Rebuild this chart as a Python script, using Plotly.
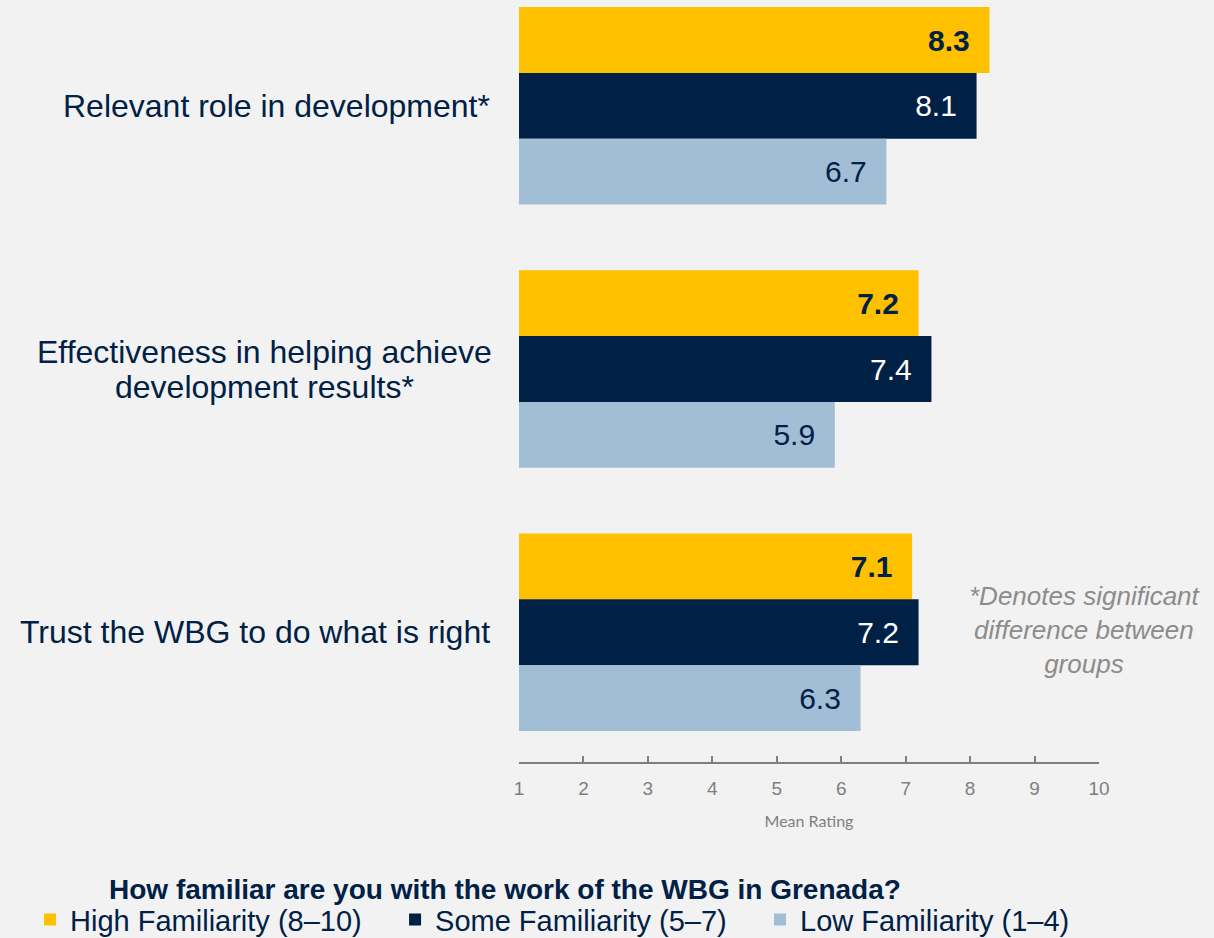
import plotly.graph_objects as go

categories = ["Relevant role in development*",
              "Effectiveness in helping achieve development results*",
              "Trust the WBG to do what is right"]
category_labels = ["Relevant role in development*",
                   "Effectiveness in helping achieve<br>development results*",
                   "Trust the WBG to do what is right"]
series_names = ["High Familiarity (8\u201310)", "Some Familiarity (5\u20137)", "Low Familiarity (1\u20134)"]
high_vals = [8.3, 7.2, 7.1]
some_vals = [8.1, 7.4, 7.2]
low_vals = [6.7, 5.9, 6.3]
x_ticks = [1, 2, 3, 4, 5, 6, 7, 8, 9, 10]

NAVY = "#002145"
FONT = "Liberation Sans, Arial"
colors = ["#FFC000", NAVY, "#A2BDD6"]
text_colors = [NAVY, "#FFFFFF", NAVY]
templates = ["<b>%{x:.1f}</b>&nbsp;&nbsp;", "%{x:.1f}&nbsp;&nbsp;", "%{x:.1f}&nbsp;&nbsp;"]

fig = go.Figure()
for name, vals, col, tcol, tmpl in zip(series_names, [high_vals, some_vals, low_vals], colors, text_colors, templates):
    fig.add_trace(go.Bar(
        y=categories, x=vals, name=name, orientation="h",
        marker=dict(color=col, line=dict(width=0)),
        texttemplate=tmpl, textposition="inside", insidetextanchor="end",
        textfont=dict(family=FONT, size=30, color=tcol),
        insidetextfont=dict(family=FONT, size=30, color=tcol),
        constraintext="none", hoverinfo="skip",
    ))

annotations = []
for cat, lab in zip(categories, category_labels):
    lines = lab.split("<br>")
    if len(lines) == 1:
        annotations.append(dict(
            xref="paper", yref="y", x=-0.047, y=cat, text=lab, showarrow=False,
            xanchor="right", yanchor="middle",
            font=dict(family=FONT, size=32, color=NAVY)))
    else:
        n = len(lines)
        for i, ln in enumerate(lines):
            annotations.append(dict(
                xref="paper", yref="y", x=-0.4388, y=cat, text=ln, showarrow=False,
                xanchor="center", yanchor="middle",
                yshift=(n - 1) / 2 * 35 - i * 35,
                font=dict(family=FONT, size=32, color=NAVY)))
annotations.append(dict(
    xref="paper", yref="paper", x=0.976, y=0.173,
    text="<i>*Denotes significant<br>difference between<br>groups</i>",
    showarrow=False, xanchor="center", yanchor="middle", align="center",
    font=dict(family=FONT, size=26, color="#8C8C8C")))
annotations.append(dict(
    xref="paper", yref="paper", x=-0.024, y=-0.1667,
    text="<b>How familiar are you with the work of the WBG in Grenada?</b>",
    showarrow=False, xanchor="center", yanchor="middle",
    font=dict(family=FONT, size=28, color=NAVY)))

fig.update_layout(
    width=1214, height=938,
    margin=dict(l=519, r=115, t=0, b=176, autoexpand=False),
    paper_bgcolor="#F2F2F2", plot_bgcolor="#F2F2F2",
    barmode="group", bargap=0.25, bargroupgap=0,
    showlegend=True,
    legend=dict(orientation="h", xref="paper", yref="paper",
                x=-0.843, y=-0.207, xanchor="left", yanchor="middle",
                font=dict(family=FONT, size=29, color=NAVY),
                entrywidth=320, bgcolor="rgba(0,0,0,0)", traceorder="normal",
                itemclick=False, itemdoubleclick=False),
    annotations=annotations,
    xaxis=dict(range=[1, 10], tickvals=x_ticks, showgrid=False, zeroline=False,
               showline=True, linecolor="#7F7F7F", linewidth=2,
               ticks="inside", ticklen=6, tickcolor="#7F7F7F", tickwidth=2,
               tickfont=dict(family=FONT, size=19, color="#7F7F7F"),
               ticklabelstandoff=8,
               title=dict(text="Mean Rating", standoff=18,
                          font=dict(family="Lato, Open Sans", size=16, color="#7F7F7F"))),
    yaxis=dict(range=[2.493, -0.402], showticklabels=False, showgrid=False,
               zeroline=False, showline=False, ticks=""),
)

fig.write_html("out.html", config={"displayModeBar": False},
               post_script="document.body.style.margin='0';")
